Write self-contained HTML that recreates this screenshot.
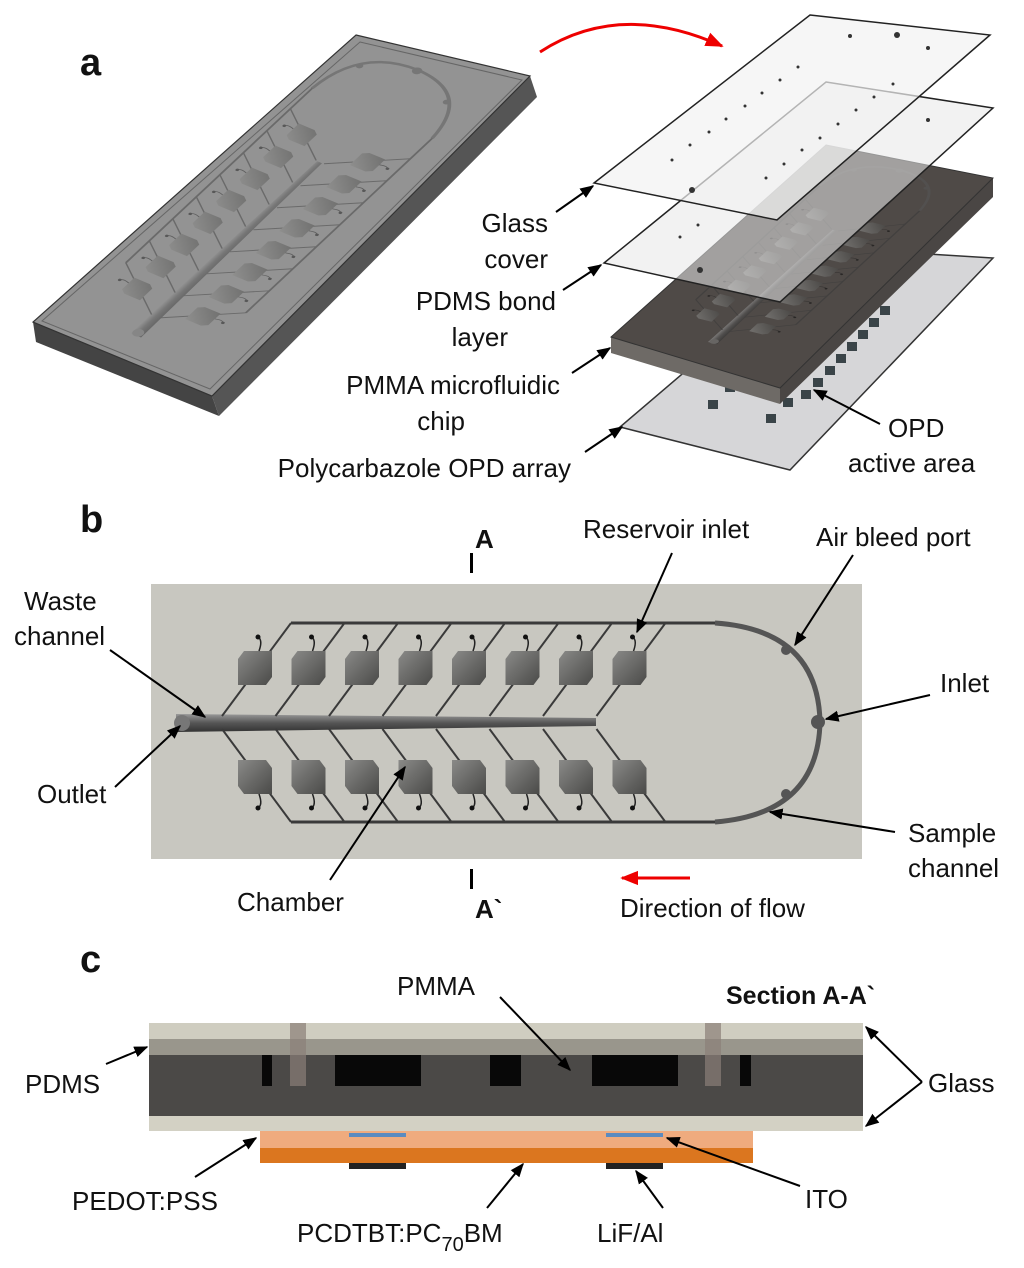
<!DOCTYPE html>
<html><head><meta charset="utf-8"><style>
html,body{margin:0;padding:0;background:#fff;}
svg{display:block;}
text{font-family:"Liberation Sans",Arial,sans-serif;font-size:26px;fill:#111;}
.b{font-weight:bold;}
</style></head><body>
<svg id="s" width="1024" height="1268" viewBox="0 0 1024 1268" xmlns="http://www.w3.org/2000/svg">
<defs>
<marker id="ar" viewBox="0 0 10 10" refX="9" refY="5" markerWidth="7" markerHeight="7" orient="auto-start-reverse"><path d="M0,1 L10,5 L0,9 z" fill="#000"/></marker>
<marker id="arr" viewBox="0 0 10 10" refX="9" refY="5" markerWidth="6" markerHeight="6" orient="auto"><path d="M0,1 L10,5 L0,9 z" fill="#e00"/></marker>
<linearGradient id="cg" x1="0" y1="0" x2="1" y2="1"><stop offset="0" stop-color="#8a8a88"/><stop offset="1" stop-color="#4a4a48"/></linearGradient>
<linearGradient id="wg" x1="0" y1="0" x2="0" y2="1"><stop offset="0" stop-color="#999"/><stop offset="0.5" stop-color="#555"/><stop offset="1" stop-color="#333"/></linearGradient>
<g id="ch"></g>
</defs>

<!-- ===== Panel a ===== -->
<text x="80" y="75" class="b" style="font-size:38px">a</text>
<polygon points="33,322 212,396 219,416 36,342" fill="#444"/>
<polygon points="212,396 530,76 537,97 219,416" fill="#555"/>
<polygon points="356,35 530,76 212,396 33,322" fill="#939393" stroke="#333" stroke-width="1.2"/>
<polygon points="360,42 522,80 210,389 42,321" fill="none" stroke="#666" stroke-width="1"/>
<g transform="matrix(0.4394,-0.4115,0.603,0.2513,-377.7,226)" opacity="0.45"><use href="#ch"/></g>
<path d="M540,52 Q620,0 722,46" fill="none" stroke="#e00" stroke-width="3" marker-end="url(#arr)"/>

<polygon points="830,248 993,258 790,470 620,427" fill="#d6d6d8" stroke="#333" stroke-width="1.5"/>
<g fill="#3a4448">
<rect x="880" y="306" width="10" height="9"/><rect x="869" y="318" width="10" height="9"/><rect x="858" y="330" width="10" height="9"/><rect x="847" y="342" width="10" height="9"/><rect x="836" y="354" width="10" height="9"/><rect x="825" y="366" width="10" height="9"/><rect x="813" y="378" width="10" height="9"/><rect x="801" y="390" width="10" height="9"/>
<rect x="725" y="383" width="10" height="9"/><rect x="708" y="400" width="10" height="9"/><rect x="783" y="398" width="10" height="9"/><rect x="766" y="414" width="10" height="9"/>
</g>
<polygon points="611,337 780,388 780,404 611,353" fill="#6e6a66"/>
<polygon points="780,388 993,178 993,197 780,404" fill="#4a4644"/>
<polygon points="826,145 993,178 780,388 611,337" fill="#4f4a47" stroke="#333" stroke-width="1"/>
<g transform="matrix(0.292,-0.2686,0.5025,0.1256,297.8,299.6)" opacity="0.6"><use href="#ch"/></g>
<polygon points="826,82 993,108 780,302 604,263" fill="#e8e8e8" fill-opacity="0.55" stroke="#222" stroke-width="1.5"/>
<polygon points="810,15 990,35 777,220 594,183" fill="#f2f2f2" fill-opacity="0.7" stroke="#222" stroke-width="1.5"/>
<g fill="#333">
<circle cx="850" cy="36" r="2"/><circle cx="897" cy="35" r="3"/><circle cx="928" cy="48" r="2"/><circle cx="798" cy="67" r="1.5"/><circle cx="780" cy="80" r="1.5"/><circle cx="762" cy="93" r="1.5"/><circle cx="745" cy="106" r="1.5"/><circle cx="726" cy="119" r="1.5"/><circle cx="709" cy="132" r="1.5"/><circle cx="690" cy="145" r="1.5"/><circle cx="672" cy="160" r="1.5"/><circle cx="893" cy="84" r="1.5"/><circle cx="874" cy="97" r="1.5"/><circle cx="856" cy="110" r="1.5"/><circle cx="838" cy="124" r="1.5"/><circle cx="820" cy="138" r="1.5"/><circle cx="802" cy="150" r="1.5"/><circle cx="784" cy="164" r="1.5"/><circle cx="766" cy="178" r="1.5"/><circle cx="692" cy="190" r="3"/><circle cx="698" cy="225" r="1.5"/><circle cx="680" cy="237" r="1.5"/><circle cx="700" cy="270" r="3"/><circle cx="928" cy="120" r="2"/>
</g>
<g text-anchor="end">
<text x="548" y="232">Glass</text>
<text x="548" y="268">cover</text>
<text x="556" y="310">PDMS bond</text>
<text x="508" y="346">layer</text>
<text x="560" y="394">PMMA microfluidic</text>
<text x="465" y="430">chip</text>
<text x="571" y="477">Polycarbazole OPD array</text>
</g>
<text x="888" y="437">OPD</text>
<text x="848" y="472">active area</text>
<g stroke="#000" stroke-width="2" fill="none" marker-end="url(#ar)">
<line x1="556" y1="212" x2="593" y2="186"/>
<line x1="563" y1="290" x2="601" y2="265"/>
<line x1="572" y1="373" x2="610" y2="348"/>
<line x1="585" y1="452" x2="622" y2="427"/>
<line x1="880" y1="424" x2="814" y2="390"/>
</g>

<!-- ===== Panel b ===== -->
<text x="80" y="532" class="b" style="font-size:38px">b</text>
<rect x="151" y="584" width="711" height="275" fill="#c8c7c0"/>
<use href="#ch"/>
<rect x="470" y="553" width="3" height="20" fill="#000"/>
<text x="475" y="548" class="b" style="font-size:26px">A</text>
<rect x="470" y="869" width="3" height="20" fill="#000"/>
<text x="475" y="918" class="b" style="font-size:26px">A`</text>
<text x="583" y="538">Reservoir inlet</text>
<text x="816" y="546">Air bleed port</text>
<text x="24" y="610">Waste</text>
<text x="14" y="645">channel</text>
<text x="940" y="692">Inlet</text>
<text x="37" y="803">Outlet</text>
<text x="908" y="842">Sample</text>
<text x="908" y="877">channel</text>
<text x="237" y="911">Chamber</text>
<text x="620" y="917">Direction of flow</text>
<line x1="690" y1="878" x2="622" y2="878" stroke="#e00" stroke-width="3" marker-end="url(#arr)"/>
<g stroke="#000" stroke-width="2" fill="none" marker-end="url(#ar)">
<line x1="110" y1="650" x2="205" y2="717"/>
<line x1="115" y1="787" x2="180" y2="726"/>
<line x1="672" y1="553" x2="637" y2="632"/>
<line x1="853" y1="555" x2="795" y2="645"/>
<line x1="930" y1="695" x2="826" y2="719"/>
<line x1="895" y1="832" x2="770" y2="812"/>
<line x1="330" y1="880" x2="405" y2="767"/>
</g>

<!-- ===== Panel c ===== -->
<text x="80" y="972" class="b" style="font-size:38px">c</text>
<rect x="149" y="1023" width="714" height="16" fill="#cfcdc0"/>
<rect x="149" y="1039" width="714" height="16" fill="#99968c"/>
<rect x="149" y="1055" width="714" height="61" fill="#4b4947"/>
<rect x="149" y="1116" width="714" height="15" fill="#d3d1c4"/>
<g fill="#080808">
<rect x="262" y="1055" width="10" height="31"/><rect x="335" y="1055" width="86" height="31"/><rect x="490" y="1055" width="31" height="31"/><rect x="592" y="1055" width="86" height="31"/><rect x="740" y="1055" width="11" height="31"/>
</g>
<rect x="290" y="1023" width="16" height="63" fill="#8a7f78" opacity="0.7"/>
<rect x="705" y="1023" width="16" height="63" fill="#8a7f78" opacity="0.7"/>
<rect x="260" y="1131" width="493" height="17" fill="#efab7e"/>
<rect x="260" y="1148" width="493" height="15" fill="#db761f"/>
<rect x="349" y="1133" width="57" height="4" fill="#5b8bc0"/>
<rect x="606" y="1133" width="57" height="4" fill="#5b8bc0"/>
<rect x="349" y="1163" width="57" height="6" fill="#222"/>
<rect x="606" y="1163" width="57" height="6" fill="#222"/>
<text x="397" y="995">PMMA</text>
<text x="726" y="1004" class="b" style="font-size:25px">Section A-A`</text>
<text x="25" y="1093">PDMS</text>
<text x="928" y="1092">Glass</text>
<text x="72" y="1210">PEDOT:PSS</text>
<text x="297" y="1242">PCDTBT:PC<tspan dy="9" style="font-size:20px">70</tspan><tspan dy="-9">BM</tspan></text>
<text x="597" y="1242">LiF/Al</text>
<text x="805" y="1208">ITO</text>
<g stroke="#000" stroke-width="2" fill="none" marker-end="url(#ar)">
<line x1="500" y1="997" x2="570" y2="1070"/>
<line x1="106" y1="1064" x2="147" y2="1047"/>
<line x1="922" y1="1082" x2="866" y2="1027"/>
<line x1="922" y1="1082" x2="866" y2="1126"/>
<line x1="195" y1="1177" x2="256" y2="1138"/>
<line x1="487" y1="1208" x2="523" y2="1164"/>
<line x1="663" y1="1208" x2="636" y2="1171"/>
<line x1="800" y1="1186" x2="667" y2="1138"/>
</g>
</svg>
<script>
(function(){
var g=document.getElementById("ch"),h="";
h+='<path d="M291,623 L715,623 Q818,630 820,722 Q818,814 715,822 L291,822" fill="none" stroke="#3a3a3a" stroke-width="3"/>';
h+='<path d="M715,623 Q818,630 820,722 Q818,814 715,822" fill="none" stroke="#555" stroke-width="5"/>';
h+='<polygon points="176,714 596,718 596,726 176,732" fill="url(#wg)"/><circle cx="182" cy="723" r="8" fill="#777"/>';
h+='<circle cx="786" cy="650" r="5" fill="#555"/><circle cx="786" cy="794" r="5" fill="#555"/><circle cx="818" cy="722" r="7" fill="#555"/>';
for(var i=0;i<8;i++){var d=53.5*i;
h+='<line x1="'+(291+d)+'" y1="623" x2="'+(222+d)+'" y2="716" stroke="#3a3a3a" stroke-width="2"/>';
h+='<line x1="'+(222+d)+'" y1="729" x2="'+(291+d)+'" y2="822" stroke="#3a3a3a" stroke-width="2"/>';
var cx=255+d,cy=668;
h+='<polygon points="'+(cx-11)+','+(cy-17)+' '+(cx+17)+','+(cy-17)+' '+(cx+17)+','+(cy+9)+' '+(cx+11)+','+(cy+17)+' '+(cx-17)+','+(cy+17)+' '+(cx-17)+','+(cy-9)+'" fill="url(#cg)"/>';
cy=777;
h+='<polygon points="'+(cx-17)+','+(cy-17)+' '+(cx+11)+','+(cy-17)+' '+(cx+17)+','+(cy-9)+' '+(cx+17)+','+(cy+17)+' '+(cx-11)+','+(cy+17)+' '+(cx-17)+','+(cy+9)+'" fill="url(#cg)"/>';
h+='<path d="M'+(cx+4)+',651 Q'+(cx+8)+',640 '+(cx+3)+',637" fill="none" stroke="#222" stroke-width="1.5"/><circle cx="'+(cx+3)+'" cy="637" r="2.5" fill="#111"/>';
h+='<path d="M'+(cx+4)+',794 Q'+(cx+8)+',805 '+(cx+3)+',808" fill="none" stroke="#222" stroke-width="1.5"/><circle cx="'+(cx+3)+'" cy="808" r="2.5" fill="#111"/>';
}
g.innerHTML=h;
})();
</script>
</body></html>
